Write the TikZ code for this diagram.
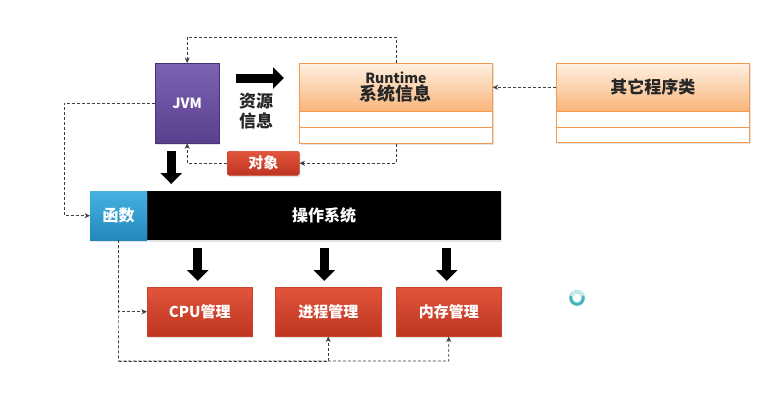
\documentclass[tikz,border=0pt]{standalone}
\usepackage{fontspec}
\setmainfont{Noto Sans CJK SC}
\usetikzlibrary{arrows.meta,calc,shadows}
\definecolor{jvmtop}{HTML}{7E62B4}
\definecolor{jvmbot}{HTML}{5A3F8E}
\definecolor{ortop}{HTML}{FEF0E2}
\definecolor{orbot}{HTML}{F9B57A}
\definecolor{orline}{HTML}{F59A4C}
\definecolor{redtop}{HTML}{E2553C}
\definecolor{redbot}{HTML}{BD3421}
\definecolor{redline}{HTML}{C9442E}
\definecolor{fntop}{HTML}{45B2E0}
\definecolor{fnbot}{HTML}{2387BC}
\definecolor{spin}{HTML}{45B6BC}
\begin{document}
\begin{tikzpicture}[x=1pt,y=-1pt,
  box/.style={rectangle, inner sep=0pt, anchor=north west, font=\bfseries},
  shad/.style={drop shadow={shadow xshift=1.2pt, shadow yshift=-1.8pt, opacity=0.22}},
  redbox/.style={box, shad, top color=redtop, bottom color=redbot, draw=redline, line width=0.5pt, text=white},
  orhead/.style={box, top color=ortop, bottom color=orbot, draw=orline, line width=0.7pt, text=black!85},
  orbox/.style={box, shad, fill=white, draw=orline, line width=0.7pt},
  dline/.style={densely dashed, line width=0.6pt, draw=black!75, -{Stealth[length=5.5pt,width=5pt]}},
  barrow/.style={line width=9pt, black, -{Triangle[length=11pt,width=21pt]}},
  sz/.style={font=\bfseries\fontsize{#1}{#1}\selectfont}
]
\useasboundingbox (0,0) rectangle (775,404);
\fill[white] (0,0) rectangle (775,404);

% JVM
\node[box, shad, top color=jvmtop, bottom color=jvmbot, draw=jvmbot!80!black, line width=0.4pt,
  minimum width=64pt, minimum height=80pt, text=white, sz=14] (jvm) at (155,63) {JVM};

% Runtime box
\node[orbox, minimum width=193pt, minimum height=80pt] (rt) at (299,63) {};
\node[orhead, minimum width=193pt, minimum height=48pt, align=center] (rthead) at (299,63)
  {{\fontsize{14}{15}\selectfont\bfseries Runtime}\\[0pt]{\fontsize{18}{19}\selectfont\bfseries 系统信息}};
\draw[orline, line width=0.7pt] (rt.west |- 0,127) -- (rt.east |- 0,127);

% Other classes box
\node[orbox, minimum width=193pt, minimum height=79pt] (oth) at (556,63) {};
\node[orhead, minimum width=193pt, minimum height=48pt, sz=17] (othhead) at (556,63) {其它程序类};
\draw[orline, line width=0.7pt] (oth.west |- 0,127) -- (oth.east |- 0,127);

% object box
\node[redbox, rounded corners=2pt, minimum width=72pt, minimum height=24pt, sz=15] (obj) at (227,151) {对象};

% resource info text
\node[font=\bfseries\fontsize{17}{20}\selectfont, align=center, text=black!85] (res) at (256,111) {资源\\信息};

% OS bar
\node[box, shad, fill=black, minimum width=354pt, minimum height=49pt, text=white, sz=16] (os) at (147,191) {操作系统};
\node[box, shad, top color=fntop, bottom color=fnbot, minimum width=57pt, minimum height=49pt, text=white, sz=16] (fn) at (90,191) {函数};

% managers
\node[redbox, minimum width=105pt, minimum height=49pt, sz=15] (cpu) at (147,287) {CPU管理};
\node[redbox, minimum width=106pt, minimum height=49pt, sz=15] (proc) at (275,287) {进程管理};
\node[redbox, minimum width=105pt, minimum height=49pt, sz=15] (mem) at (396,287) {内存管理};

% block arrows
\draw[barrow] ($(jvm.north east)+(17,15)$) -- ($(jvm.north east -| rt.west)+(-15,15)$);
\draw[barrow] ($(jvm.south)+(-16,8)$) -- ($(jvm.south |- os.north)+(-16,-7)$);
\draw[barrow] ($(cpu.north)+(-2,-39)$) -- ($(cpu.north)+(-2,-6)$);
\draw[barrow] ($(proc.north)+(-4,-39)$) -- ($(proc.north)+(-4,-6)$);
\draw[barrow] ($(mem.north)+(-2,-39)$) -- ($(mem.north)+(-2,-6)$);

% dashed connectors
\draw[dline] (othhead.west) -- (othhead.west -| rt.east);
\draw[dline] (rt.north) -- ++(0,-26) -| (jvm.north);
\draw[dline] (rt.south) |- (obj.east);
\draw[dline] (obj.west) -| (jvm.south);
\draw[dline] (jvm.west) -- ++(-91,0) |- (fn.west);
\coordinate (bl) at (118.5,361);
\draw[dline] (fn.south) |- (cpu.west);
\draw[dline] (fn.south) -- (bl) -| (mem.south);
\draw[dline] (bl) -| (proc.south);

% loading ring
\draw[spin, line width=3.2pt] (577,298) circle (6.2);
\draw[white!70!spin, line width=3.2pt] (577,298) ++(200:6.2) arc (200:340:6.2);
\end{tikzpicture}
\end{document}
